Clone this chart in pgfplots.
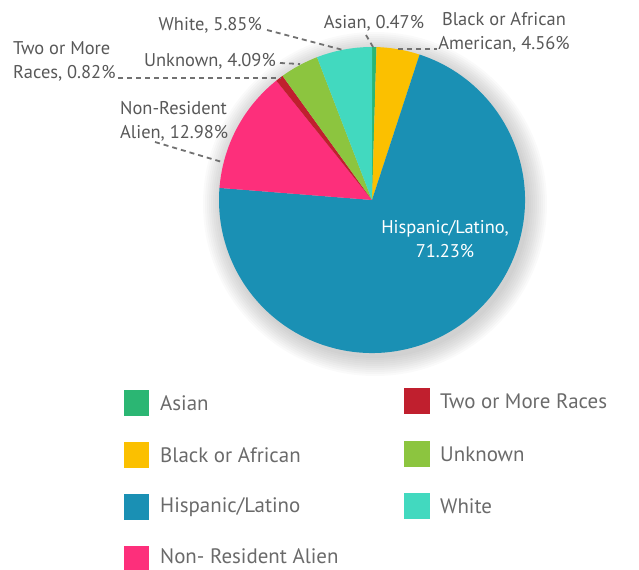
\documentclass[border=0pt]{standalone}
\usepackage{pgfplots}
\usepackage{pgfplotstable}
\pgfplotsset{compat=1.18}
\usepackage{fontspec}
\setmainfont{PT Sans}

\definecolor{cAsian}{HTML}{2BB673}
\definecolor{cBlack}{HTML}{FBC000}
\definecolor{cHisp}{HTML}{1A90B4}
\definecolor{cNon}{HTML}{FD2F7B}
\definecolor{cTwo}{HTML}{C01F2E}
\definecolor{cUnk}{HTML}{8CC53F}
\definecolor{cWhite}{HTML}{42D9BF}
\definecolor{labgray}{HTML}{585858}
\definecolor{leggray}{HTML}{6A6A6A}

% share of each group, in percent, clockwise from the top
\pgfplotstableread[col sep=comma]{
name,value,color
Asian,0.47,cAsian
Black,4.56,cBlack
Hispanic,71.23,cHisp
NonResident,12.98,cNon
TwoOrMore,0.82,cTwo
Unknown,4.09,cUnk
White,5.85,cWhite
}\pietable

\begin{document}
\begin{tikzpicture}[
    leader/.style={labgray!85, line width=1.8bp, dash pattern=on 5bp off 4bp},
    lab/.style={font=\fontsize{18.5}{24}\selectfont, text=labgray, inner sep=0pt},
    legtxt/.style={font=\fontsize{21}{24}\selectfont, text=leggray, inner sep=0pt, anchor=west},
  ]
\begin{axis}[
    scale only axis,
    width=639bp, height=570bp,
    xmin=0, xmax=639, ymin=0, ymax=570,
    y dir=reverse,
    hide axis,
    clip=false,
  ]

  % soft shadow behind the pie
  \foreach \r in {154,156,...,172} {
    \edef\temp{\noexpand\fill[black, opacity=0.018] (axis cs:375,204) circle[radius=\r bp];}
    \temp
  }

  % slices
  \pgfplotstablegetrowsof{\pietable}
  \pgfmathtruncatemacro\N{\pgfplotsretval-1}
  \xdef\cum{0}
  \foreach \i in {0,...,\N} {
    \pgfplotstablegetelem{\i}{value}\of\pietable
    \let\v\pgfplotsretval
    \pgfplotstablegetelem{\i}{color}\of\pietable
    \let\c\pgfplotsretval
    \pgfmathsetmacro\a{90-3.6*\cum}
    \pgfmathsetmacro\b{90-3.6*(\cum+\v)}
    \edef\temp{\noexpand\fill[\c] (axis cs:372,200) -- ++(\a:153bp)
      arc[start angle=\a, end angle=\b, radius=153bp] -- cycle;}
    \temp
    \pgfmathsetmacro\newcum{\cum+\v}
    \xdef\cum{\newcum}
  }

  % leader lines
  \draw[leader] (axis cs:267,30) -- (axis cs:343,50);
  \draw[leader] (axis cs:280,63) -- (axis cs:300,64);
  \draw[leader] (axis cs:118,78) -- (axis cs:281,78);
  \draw[leader] (axis cs:155,142) -- (axis cs:222,162);
  \draw[leader] (axis cs:366,35) -- (axis cs:373,47);
  \draw[leader] (axis cs:398,49) -- (axis cs:437,49);

  % slice labels
  \node[lab, anchor=east] at (axis cs:262,25) {White, 5.85\%};
  \node[lab, anchor=east] at (axis cs:276,61) {Unknown, 4.09\%};
  \node[lab, anchor=west, align=left] at (axis cs:13,61) {Two or More\\Races, 0.82\%};
  \node[lab, anchor=west, align=left] at (axis cs:120,121) {Non-Resident\\Alien, 12.98\%};
  \node[lab] at (axis cs:374,23) {Asian, 0.47\%};
  \node[lab, align=center] at (axis cs:504,32) {Black or African\\American, 4.56\%};
  \node[lab, text=white, align=center] at (axis cs:445,239) {Hispanic/Latino,\\71.23\%};

  % legend
  \fill[cAsian] (axis cs:124,390) rectangle (axis cs:149,416);
  \fill[cBlack] (axis cs:124,442) rectangle (axis cs:149,468);
  \fill[cHisp]  (axis cs:124,494) rectangle (axis cs:149,520);
  \fill[cNon]   (axis cs:124,546) rectangle (axis cs:149,570);
  \fill[cTwo]   (axis cs:404,388) rectangle (axis cs:430,414);
  \fill[cUnk]   (axis cs:404,441) rectangle (axis cs:430,467);
  \fill[cWhite] (axis cs:404,493) rectangle (axis cs:430,519);
  \node[legtxt] at (axis cs:160,403) {Asian};
  \node[legtxt] at (axis cs:160,455) {Black or African};
  \node[legtxt] at (axis cs:160,507) {Hispanic/Latino};
  \node[legtxt] at (axis cs:160,556) {Non- Resident Alien};
  \node[legtxt] at (axis cs:440,401) {Two or More Races};
  \node[legtxt] at (axis cs:440,454) {Unknown};
  \node[legtxt] at (axis cs:440,506) {White};
\end{axis}
\pgfresetboundingbox
\path (current axis.south west) rectangle (current axis.north east);
\end{tikzpicture}
\end{document}
